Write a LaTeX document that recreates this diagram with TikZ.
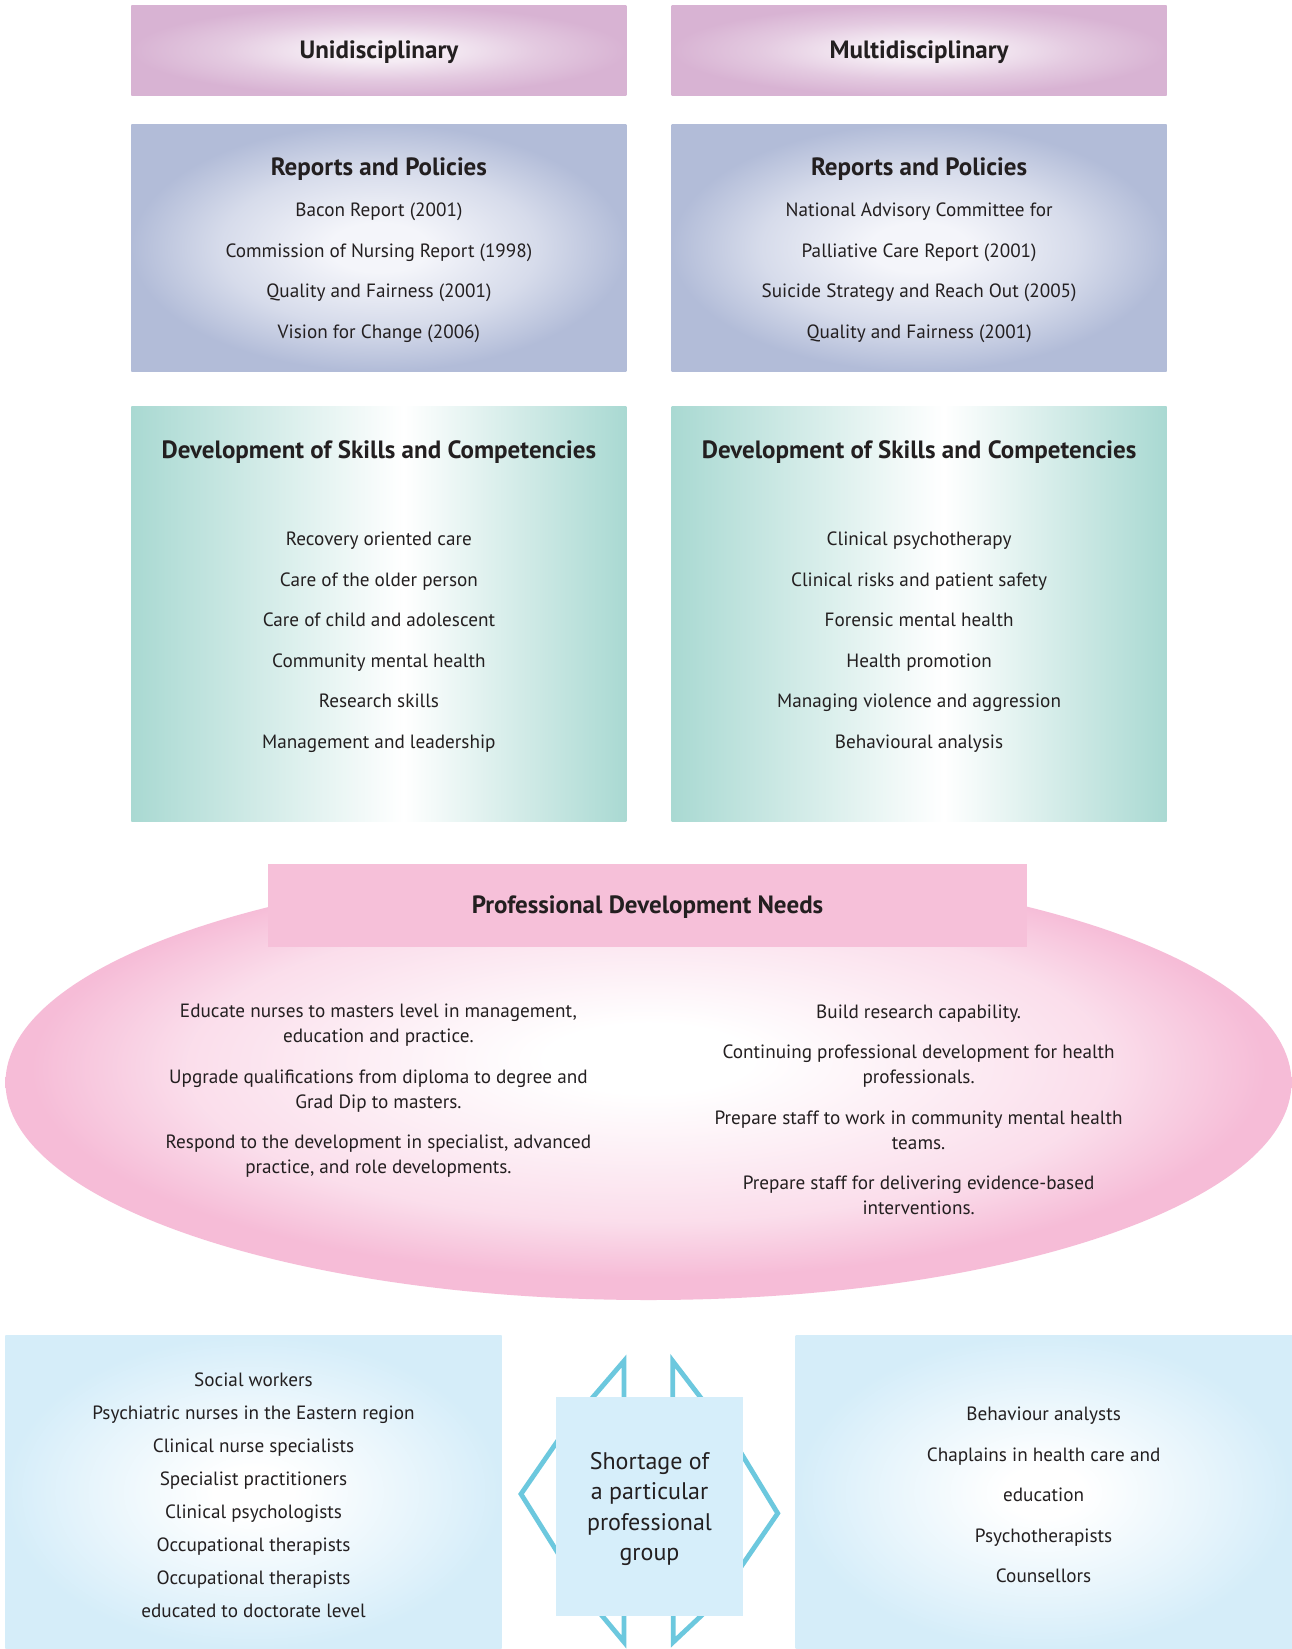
\documentclass[tikz,border=0pt]{standalone}
\usepackage{fontspec}
\setmainfont{PT Sans}
\usetikzlibrary{shapes.geometric}
\definecolor{txt}{HTML}{231F20}
\definecolor{mauveout}{HTML}{D8B3D3}
\definecolor{mauvein}{HTML}{F5ECF4}
\definecolor{slateout}{HTML}{B2BCD8}
\definecolor{slatein}{HTML}{F4F5FA}
\definecolor{tealout}{HTML}{A9D9D2}
\definecolor{pinkout}{HTML}{F6BCD7}
\definecolor{pinkbar}{HTML}{F6C0D9}
\definecolor{skyout}{HTML}{D5EDF9}
\definecolor{skyflat}{HTML}{D6EEFA}
\definecolor{arrowc}{HTML}{6CC8DE}
% the box edge lies at 25bp from the centre of these shadings
\pgfdeclareradialshading{glowmauve}{\pgfpoint{0bp}{0bp}}{color(0bp)=(mauvein); color(6bp)=(mauvein); color(16bp)=(mauveout!60!mauvein); color(25bp)=(mauveout); color(50bp)=(mauveout)}
\pgfdeclareradialshading{glowslate}{\pgfpoint{0bp}{0bp}}{color(0bp)=(slatein); color(5bp)=(slatein); color(16bp)=(slateout!45!slatein); color(25bp)=(slateout); color(50bp)=(slateout)}
\pgfdeclareradialshading{glowpink}{\pgfpoint{0bp}{3bp}}{color(0bp)=(white); color(4bp)=(white); color(18bp)=(pinkout!50!white); color(24bp)=(pinkout); color(50bp)=(pinkout)}
\pgfdeclareradialshading{glowsky}{\pgfpoint{0bp}{0bp}}{color(0bp)=(white); color(4bp)=(white); color(16bp)=(skyout!55!white); color(25bp)=(skyout); color(50bp)=(skyout)}
\pgfdeclarehorizontalshading{tealband}{100bp}{color(0bp)=(tealout); color(25bp)=(tealout); color(52.5bp)=(white); color(75bp)=(tealout); color(100bp)=(tealout)}
\tikzset{
  panel/.style={inner sep=0pt, outer sep=0pt, draw=none},
  body/.style={font=\fontsize{19.2}{40.5}\selectfont, text=txt, align=center, inner sep=0pt},
  head/.style={font=\bfseries\fontsize{25}{29}\selectfont, text=txt, inner sep=0pt},
  needs/.style={font=\fontsize{19.2}{25}\selectfont, text=txt, align=center, inner sep=0pt},
  arrowline/.style={draw=arrowc, line width=4.8pt, line join=miter, miter limit=20},
}
\begin{document}
\begin{tikzpicture}[x=1pt,y=-1pt]
\useasboundingbox[fill=white] (0,0) rectangle (1292,1649);

% top boxes
\node[panel, shading=glowmauve, minimum width=495pt, minimum height=90.3pt] (uni) at (378.9,50.4) {};
\node[panel, shading=glowmauve, minimum width=495pt, minimum height=90.3pt] (multi) at (919.1,50.4) {};
\node[head] (unit) at (378.9,52.5) {Unidisciplinary};
\node[head] (multit) at (919.1,52.5) {Multidisciplinary};

% reports boxes
\node[panel, shading=glowslate, minimum width=495pt, minimum height=247pt] (repl) at (378.9,247.5) {};
\node[panel, shading=glowslate, minimum width=495pt, minimum height=247pt] (repr) at (919.1,247.5) {};
\node[head] (repltitle) at (378.9,169) {Reports and Policies};
\node[head] (reprtitle) at (919.1,169) {Reports and Policies};
\node[body] (repllist) at (378.9,273) {Bacon Report (2001)\\Commission of Nursing Report (1998)\\Quality and Fairness (2001)\\Vision for Change (2006)};
\node[body] (reprlist) at (919.1,273) {National Advisory Committee for\\Palliative Care Report (2001)\\Suicide Strategy and Reach Out (2005)\\Quality and Fairness (2001)};

% development boxes
\node[panel, shading=tealband, minimum width=495pt, minimum height=415.2pt] (devl) at (378.9,614.3) {};
\node[panel, shading=tealband, minimum width=495pt, minimum height=415.2pt] (devr) at (919.1,614.3) {};
\node[head] (devltitle) at (378.9,452.5) {Development of Skills and Competencies};
\node[head] (devrtitle) at (919.1,452.5) {Development of Skills and Competencies};
\node[body] (devllist) at (378.9,642) {Recovery oriented care\\Care of the older person\\Care of child and adolescent\\Community mental health\\Research skills\\Management and leadership};
\node[body] (devrlist) at (919.1,642) {Clinical psychotherapy\\Clinical risks and patient safety\\Forensic mental health\\Health promotion\\Managing violence and aggression\\Behavioural analysis};

% professional development needs
\node[panel, ellipse, shading=glowpink, minimum width=1286pt, minimum height=435pt] (pdn) at (648.5,1082.5) {};
\node[panel, fill=pinkbar, minimum width=759pt, minimum height=83pt] (pdnbar) at (647.5,905.5) {};
\node[head] (pdntitle) at (647.5,907.5) {Professional Development Needs};
\node[needs] (needl) at (378.4,1091) {Educate nurses to masters level in management,\\education and practice.\\[15.5pt]Upgrade qualifications from diploma to degree and\\Grad Dip to masters.\\[15.5pt]Respond to the development in specialist, advanced\\practice, and role developments.};
\node[needs] (needr) at (918.6,1110) {Build research capability.\\[15.5pt]Continuing professional development for health\\professionals.\\[15.5pt]Prepare staff to work in community mental health\\teams.\\[15.5pt]Prepare staff for delivering evidence-based\\interventions.};

% bottom boxes
\node[panel, shading=glowsky, minimum width=496.2pt, minimum height=314pt] (grpl) at (253.4,1492) {};
\node[panel, shading=glowsky, minimum width=496.4pt, minimum height=314pt] (grpr) at (1043.8,1492) {};
\node[body, font=\fontsize{19.2}{33}\selectfont] (grpllist) at (253.5,1495.5) {Social workers\\Psychiatric nurses in the Eastern region\\Clinical nurse specialists\\Specialist practitioners\\Clinical psychologists\\Occupational therapists\\Occupational therapists\\educated to doctorate level};
\node[body] (grprlist) at (1043.6,1495) {Behaviour analysts\\Chaplains in health care and\\education\\Psychotherapists\\Counsellors};

% arrow outlines behind the centre box
\coordinate (tlt) at (624,1361);
\coordinate (tld) at (564.7,1430);
\coordinate (tlv) at (624,1430);
\coordinate (trt) at (672.7,1361);
\coordinate (trd) at (725.5,1430);
\coordinate (trv) at (672.7,1430);
\coordinate (blt) at (624,1642);
\coordinate (bld) at (580.6,1590);
\coordinate (blv) at (624,1590);
\coordinate (brt) at (673.3,1642);
\coordinate (brd) at (728.6,1590);
\coordinate (brv) at (673.3,1590);
\coordinate (lct) at (521,1494);
\coordinate (lcu) at (580,1408.5);
\coordinate (lcd) at (580,1588.4);
\coordinate (rct) at (777.7,1513.3);
\coordinate (rcu) at (720,1418.4);
\coordinate (rcd) at (720,1597.4);
\draw[arrowline] (tld) -- (tlt) -- (tlv);
\draw[arrowline] (trd) -- (trt) -- (trv);
\draw[arrowline] (bld) -- (blt) -- (blv);
\draw[arrowline] (brd) -- (brt) -- (brv);
\draw[arrowline] (lcu) -- (lct) -- (lcd);
\draw[arrowline] (rcu) -- (rct) -- (rcd);

% centre box
\node[panel, fill=skyflat, minimum width=187.3pt, minimum height=219pt] (short) at (649.5,1506.2) {};
\node[body, font=\fontsize{24}{30.3}\selectfont] (shorttext) at (649.5,1509) {Shortage of\\a particular\\professional\\group};
\end{tikzpicture}
\end{document}
